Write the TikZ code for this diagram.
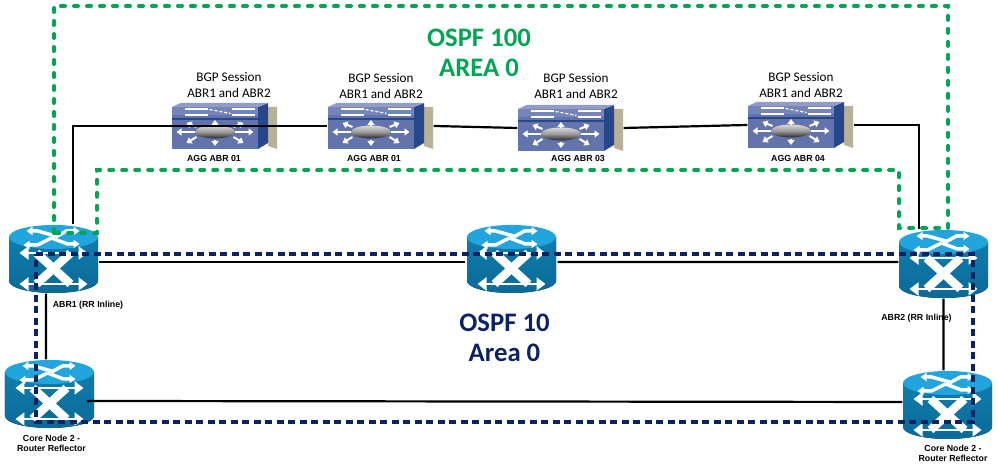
\documentclass[tikz,border=0pt]{standalone}
\usepackage{fontspec}
\setmainfont{Carlito}
\newfontfamily\labelfont{Liberation Sans}
\usetikzlibrary{arrows.meta}

\definecolor{ospfgreen}{HTML}{00A651}
\definecolor{ospfnavy}{HTML}{0B2265}
\definecolor{routertop}{HTML}{22A5DD}
\definecolor{routerbody}{HTML}{0F7DAE}
\definecolor{routerlow}{HTML}{0A6A98}
\definecolor{switchface}{HTML}{6373AB}
\definecolor{switchband}{HTML}{7585BA}
\definecolor{switchside}{HTML}{27478C}
\definecolor{switchback}{HTML}{B9B09A}

\newcommand{\routericon}{
    \begin{scope}[shift={(path picture bounding box.center)}]
        \fill[top color=routerbody, bottom color=routerlow] (-.445, .22) -- (-.445, -.22)
            arc[x radius=.445, y radius=.12, start angle=180, end angle=360] -- (.445, .22) -- cycle;
        \fill[routertop] (0, .22) ellipse[x radius=.445, y radius=.12];
        \draw[white, line width=.035cm, -{Triangle[length=.06cm, width=.08cm]}] (.02, .23) -- (-.16, .28) -- (-.27, .28);
        \draw[white, line width=.035cm, -{Triangle[length=.06cm, width=.08cm]}] (-.02, .21) -- (.14, .15) -- (.26, .15);
        \draw[white, line width=.035cm, -{Triangle[length=.06cm, width=.08cm]}] (.02, .22) -- (.13, .28) -- (.26, .28);
        \draw[white, line width=.035cm, -{Triangle[length=.06cm, width=.08cm]}] (-.02, .21) -- (-.16, .14) -- (-.30, .14);
        \draw[white, line width=.085cm] (-.17, .06) -- (.17, -.25);
        \draw[white, line width=.085cm] (.17, .06) -- (-.17, -.25);
        \foreach \y in {.06, -.25} {
            \draw[white, line width=.025cm, {Triangle[length=.09cm, width=.13cm]}-{Triangle[length=.09cm, width=.13cm]}] (-.34, \y) -- (.34, \y);
        }
    \end{scope}
}
\newcommand{\switchicon}{
    \begin{scope}[shift={(path picture bounding box.center)}]
        \fill[switchback] (.435, .19) -- (.525, .19) -- (.525, -.23) -- (.435, -.2) -- cycle;
        \fill[switchside] (.335, .19) -- (.435, .23) -- (.435, -.17) -- (.335, -.23) -- cycle;
        \fill[switchface] (-.525, -.23) rectangle (.335, .11);
        \fill[switchband] (-.525, .11) rectangle (.335, .19);
        \fill[switchband!80!white] (-.525, .19) -- (-.44, .23) -- (.435, .23) -- (.335, .19) -- cycle;
        \draw[switchside, line width=.012cm] (-.525, .07) -- (.335, .07);
        \fill[white] (-.395, .155) rectangle (-.165, .18);
        \fill[white] (-.395, .095) rectangle (-.165, .12);
        \fill[white] (.075, .155) rectangle (.305, .18);
        \fill[white] (.075, .095) rectangle (.305, .12);
        \draw[white, line width=.012cm, dashed, dash pattern=on .03cm off .02cm] (-.15, .165) -- (.06, .125);
        \foreach \xa/\ya/\xb/\yb in {-.095/.01/-.095/.06, -.095/-.14/-.095/-.2, -.3/-.06/-.48/-.06, .1/-.06/.29/-.06,
                                     -.28/-.01/-.38/.03, -.28/-.11/-.38/-.17, .09/-.01/.19/.03, .09/-.11/.19/-.17} {
            \draw[white, line width=.02cm, -{Triangle[length=.05cm, width=.07cm]}] (\xa, \ya) -- (\xb, \yb);
        }
        \shade[top color=white!85!black, bottom color=black!85, middle color=black!40] (-.095, -.06) ellipse[x radius=.2, y radius=.065];
    \end{scope}
}

\tikzset{
    routerbox/.style={minimum width=.89cm, minimum height=.68cm, inner sep=0pt, path picture={\routericon}},
    switchbox/.style={minimum width=1.05cm, minimum height=.46cm, inner sep=0pt, path picture={\switchicon}},
    link/.style={black, line width=.022cm},
    greenarea/.style={ospfgreen, line width=.04cm, line cap=round, dash pattern=on .04cm off .09cm},
    navyarea/.style={ospfnavy, line width=.032cm, dash pattern=on .07cm off .045cm},
    sessionlabel/.style={align=center, inner sep=0pt, font=\fontsize{3.75}{4.3}\selectfont},
    devicelabel/.style={align=center, inner sep=0pt, font=\labelfont\bfseries\fontsize{2.5}{2.9}\selectfont},
    arealabel/.style={align=center, inner sep=0pt, font=\bfseries\fontsize{7.6}{8.6}\selectfont}
}

\begin{document}
\begin{tikzpicture}
    \useasboundingbox (0, 0) rectangle (9.99, 4.69);

    \node[routerbox] (abr1) at (.535, 2.10) {};
    \node[routerbox, minimum width=.91cm] (midrouter) at (5.115, 2.10) {};
    \node[routerbox] (abr2) at (9.435, 2.05) {};
    \node[routerbox] (coreleft) at (.495, .75) {};
    \node[routerbox] (coreright) at (9.475, .64) {};

    \node[switchbox] (agg1) at (2.245, 3.43) {};
    \node[switchbox] (agg2) at (3.805, 3.43) {};
    \node[switchbox] (agg3) at (5.705, 3.41) {};
    \node[switchbox] (agg4) at (8.005, 3.44) {};

    \draw[link] ([xshift=.195cm]abr1.north) |- (agg1.west);
    \draw[link] (agg1.west) -- (agg2.west);
    \draw[link] (agg2.east) -- (agg3.west);
    \draw[link] (agg3.east) -- (agg4.west);
    \draw[link] (agg4.east) -| ([xshift=-.245cm]abr2.north);
    \draw[link] ([yshift=-.03cm]abr1.east) -- ([yshift=-.03cm]midrouter.west);
    \draw[link] ([yshift=-.03cm]midrouter.east) -- ([yshift=.02cm]abr2.west);
    \draw[link] ([xshift=-.075cm]abr1.south) -- ([xshift=-.035cm]coreleft.north);
    \draw[link] (abr2.south) -- ([xshift=-.04cm]coreright.north);
    \draw[link] ([xshift=.375cm, yshift=-.07cm]coreleft.center) -- ([yshift=.03cm]coreright.west);

    \draw[greenarea] (.54, 2.36) -- (.54, 4.63) -- (9.48, 4.63) -- (9.48, 2.41)
                              -- (8.99, 2.41) -- (8.99, 2.99) -- (.97, 2.99)
                              -- (.97, 2.36) -- cycle;
    \draw[navyarea] (.36, 2.15) -- (9.73, 2.15) -- (9.73, .47) -- (.36, .47) -- cycle;

    \node[arealabel, text=ospfgreen] (ospf100) at (4.79, 4.16) {OSPF 100\\AREA 0};
    \node[arealabel, text=ospfnavy] (ospf10) at (5.045, 1.31) {OSPF 10\\Area 0};

    \node[sessionlabel] (session1) at (2.29, 3.84) {BGP Session\\ABR1 and ABR2};
    \node[sessionlabel] (session2) at (3.81, 3.83) {BGP Session\\ABR1 and ABR2};
    \node[sessionlabel] (session3) at (5.76, 3.83) {BGP Session\\ABR1 and ABR2};
    \node[sessionlabel] (session4) at (8.01, 3.84) {BGP Session\\ABR1 and ABR2};

    \node[devicelabel] (agglabel1) at (2.14, 3.11) {AGG ABR 01};
    \node[devicelabel] (agglabel2) at (3.74, 3.11) {AGG ABR 01};
    \node[devicelabel] (agglabel3) at (5.78, 3.10) {AGG ABR 03};
    \node[devicelabel] (agglabel4) at (7.98, 3.11) {AGG ABR 04};

    \node[devicelabel] (abr1label) at (.88, 1.64) {ABR1 (RR Inline)};
    \node[devicelabel] (abr2label) at (9.165, 1.51) {ABR2 (RR Inline)};
    \node[devicelabel] (coreleftlabel) at (.515, .255) {Core Node 2 -\\Router Reflector};
    \node[devicelabel] (corerightlabel) at (9.53, .155) {Core Node 2 -\\Router Reflector};
\end{tikzpicture}
\end{document}
